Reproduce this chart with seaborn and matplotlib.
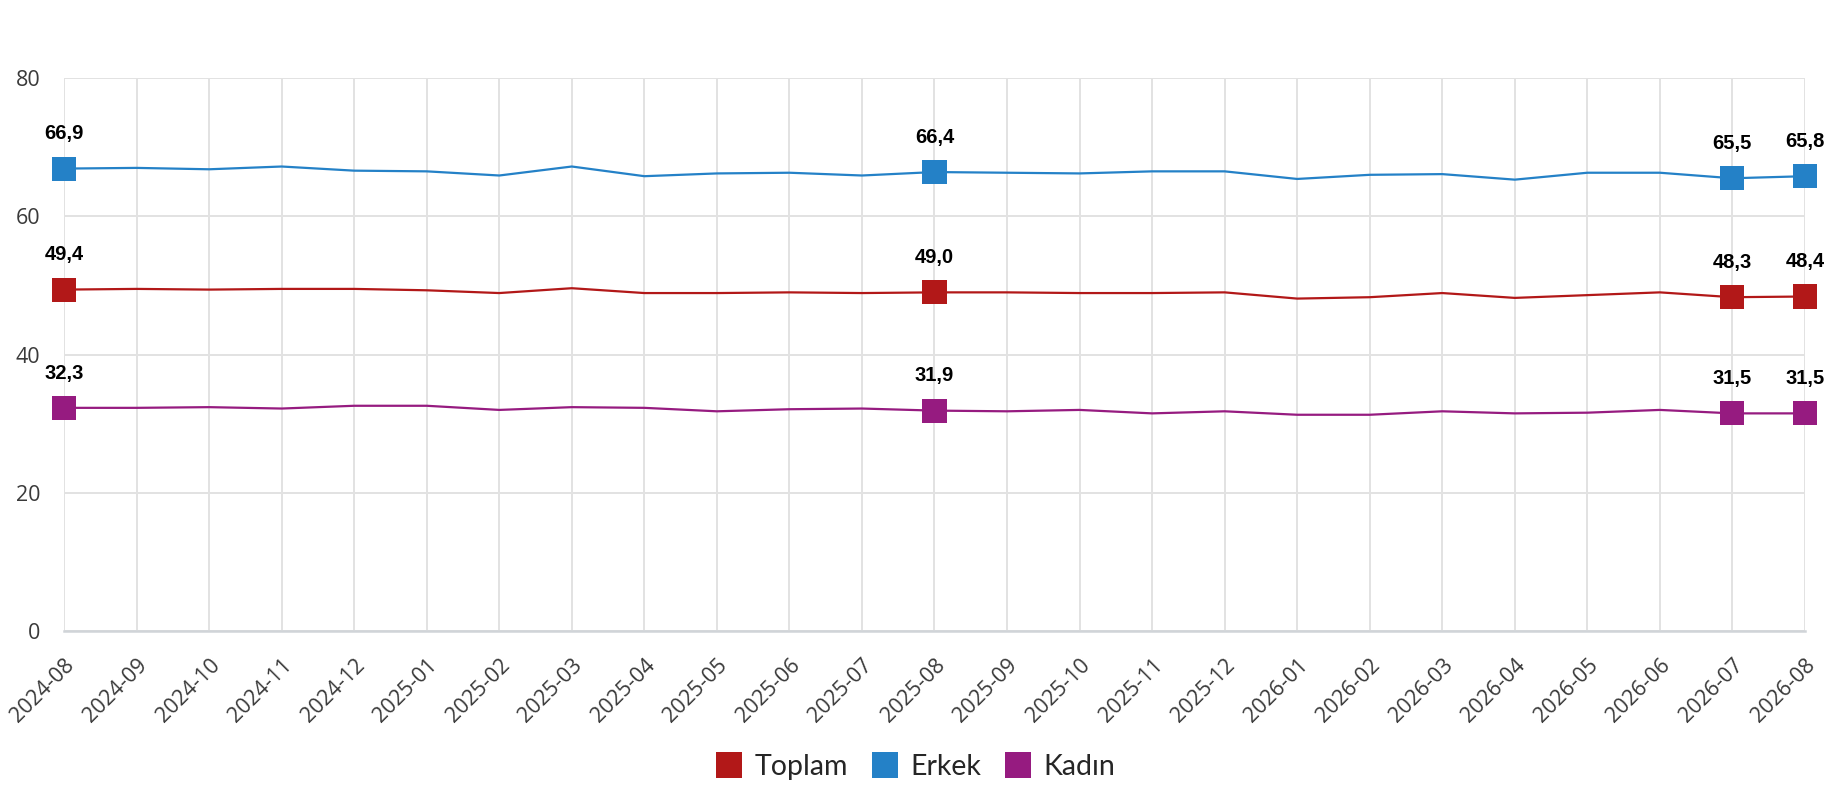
import pandas as pd
import seaborn as sns
import matplotlib.pyplot as plt
from matplotlib.lines import Line2D

# Monthly values
months = ["2024-08", "2024-09", "2024-10", "2024-11", "2024-12",
          "2025-01", "2025-02", "2025-03", "2025-04", "2025-05", "2025-06",
          "2025-07", "2025-08", "2025-09", "2025-10", "2025-11", "2025-12",
          "2026-01", "2026-02", "2026-03", "2026-04", "2026-05", "2026-06",
          "2026-07", "2026-08"]
toplam = [49.4, 49.5, 49.4, 49.5, 49.5, 49.3, 48.9, 49.6, 48.9, 48.9, 49.0,
          48.9, 49.0, 49.0, 48.9, 48.9, 49.0, 48.1, 48.3, 48.9, 48.2, 48.6,
          49.0, 48.3, 48.4]
erkek = [66.9, 67.0, 66.8, 67.2, 66.6, 66.5, 65.9, 67.2, 65.8, 66.2, 66.3,
         65.9, 66.4, 66.3, 66.2, 66.5, 66.5, 65.4, 66.0, 66.1, 65.3, 66.3,
         66.3, 65.5, 65.8]
kadin = [32.3, 32.3, 32.4, 32.2, 32.6, 32.6, 32.0, 32.4, 32.3, 31.8, 32.1,
         32.2, 31.9, 31.8, 32.0, 31.5, 31.8, 31.3, 31.3, 31.8, 31.5, 31.6,
         32.0, 31.5, 31.5]
series_names = ["Toplam", "Erkek", "Kadın"]
marked_months = ["2024-08", "2025-08", "2026-07", "2026-08"]
y_ticks = [0, 20, 40, 60, 80]

colors = {"Toplam": "#B21818", "Erkek": "#2481C7", "Kadın": "#961B80"}

# long form table for seaborn
rows = []
for name, vals in zip(series_names, [toplam, erkek, kadin]):
    for i, (m, v) in enumerate(zip(months, vals)):
        rows.append({"pos": i, "Ay": m, "Seri": name, "Değer": v})
df = pd.DataFrame(rows)
marked = df[df["Ay"].isin(marked_months)]

sns.set_theme(style="white")
plt.rcParams["font.family"] = ["Open Sans", "DejaVu Sans"]

fig = plt.figure(figsize=(18.3, 8), dpi=100)
ax = fig.add_axes([0.035, 0.211, 0.9513, 0.6915])

sns.lineplot(data=df, x="pos", y="Değer", hue="Seri", palette=colors,
             linewidth=1.6, legend=False, ax=ax, zorder=3)
sns.scatterplot(data=marked, x="pos", y="Değer", hue="Seri", palette=colors,
                marker="s", s=300, linewidth=0, legend=False, ax=ax,
                zorder=4, clip_on=False)

for _, r in marked.iterrows():
    ax.annotate(f"{r['Değer']:.1f}".replace(".", ","), (r["pos"], r["Değer"]),
                xytext=(0, 25), textcoords="offset points", ha="center",
                va="center", fontsize=14.5, fontweight="bold",
                family="Liberation Sans", color="black")

ax.set_xlim(0, len(months) - 1)
ax.set_ylim(0, 80)
ax.set_yticks(y_ticks)
ax.set_xticks(range(len(months)))
ax.set_xticklabels(months, rotation=45, ha="right", rotation_mode="anchor")
ax.set_xlabel("")
ax.set_ylabel("")

ax.grid(True, color="#e2e2e2", linewidth=1.4)
ax.set_axisbelow(True)
for s in ["top", "right", "left"]:
    ax.spines[s].set_visible(False)
ax.spines["bottom"].set_color("#d0d4d8")
ax.spines["bottom"].set_linewidth(1.8)
ax.tick_params(axis="both", length=11, width=1.4, color="#e2e2e2",
               colors="#3a3a3a")
ax.tick_params(axis="x", labelsize=15.5, pad=6)
ax.tick_params(axis="y", labelsize=15.5, pad=6)

handles = [Line2D([], [], marker="s", linestyle="none", markersize=19,
                  markerfacecolor=colors[n], markeredgewidth=0, label=n)
           for n in series_names]
fig.legend(handles=handles, loc="center", bbox_to_anchor=(0.5, 0.041),
           ncol=3, frameon=False, handlelength=1.0, handletextpad=0.4,
           columnspacing=0.8, prop={"family": "Lato", "size": 20.5})

fig.savefig("out.png", dpi=100)
